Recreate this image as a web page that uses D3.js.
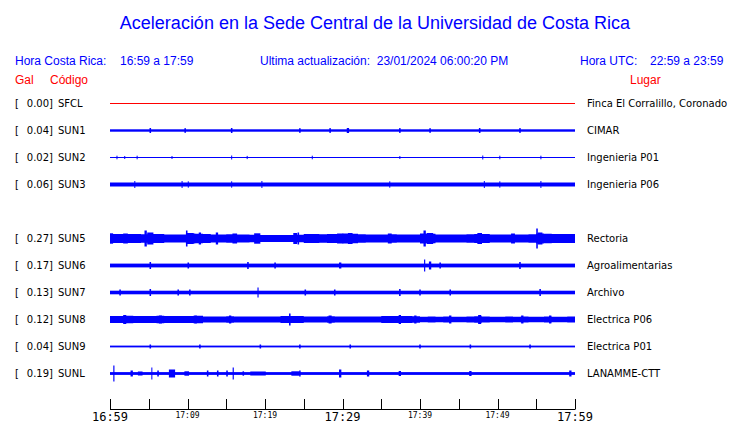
<!DOCTYPE html>
<html><head><meta charset="utf-8">
<script src="https://cdn.jsdelivr.net/npm/d3@7"></script>
<style>body{margin:0;background:#fff} text{white-space:pre}</style>
</head><body>
<script>
// ---- data ----
const slotCodes = ["SFCL","SUN1","SUN2","SUN3","SUN4","SUN5","SUN6","SUN7","SUN8","SUN9","SUNL"];
const codes  = ["SFCL","SUN1","SUN2","SUN3","SUN5","SUN6","SUN7","SUN8","SUN9","SUNL"];
const gal    = [0.00, 0.04, 0.02, 0.06, 0.27, 0.17, 0.13, 0.12, 0.04, 0.19];
const places = ["Finca El Corralillo, Coronado","CIMAR","Ingenieria P01","Ingenieria P06","Rectoria",
                "Agroalimentarias","Archivo","Electrica P06","Electrica P01","LANAMME-CTT"];
// background amplitude of each trace (relative units)
const baseAmp = [0, 1.2, 0.5, 2.0, 4.2, 1.9, 1.8, 3.0, 0.9, 1.4];
// per-minute envelope (minutes 0..60) for the busier traces
const envSUN5 = [4.5,4.6,4.4,4.5,4.3,4.6,4.5,4.0,4.1,4.0,5.0,4.8,4.5,4.0,4.1,4.2,4.0,4.1,3.8,3.6,3.5,3.4,3.6,3.5,3.7,
                 4.4,4.5,4.3,4.6,4.5,5.0,4.8,4.2,4.0,4.1,4.0,4.2,4.0,4.1,4.0,5.0,4.8,4.0,4.1,3.9,4.0,4.2,4.6,4.5,4.0,
                 4.1,3.9,4.0,4.1,4.3,5.0,4.8,4.6,4.5,4.6,4.5];
const envSUN8 = [3.6,3.5,3.8,3.4,3.6,3.5,3.7,3.4,3.5,3.6,3.4,3.7,3.0,3.1,2.9,3.2,3.0,2.9,3.0,3.1,2.9,3.0,3.5,3.6,3.4,
                 3.0,2.9,3.1,3.2,3.0,2.9,3.0,3.0,2.9,3.1,3.4,3.5,3.6,3.4,3.3,2.8,2.9,2.8,3.0,2.8,2.7,2.9,3.2,3.0,2.8,
                 2.8,2.9,2.8,3.1,2.8,2.7,2.9,2.8,2.8,2.9,2.8];
const envelopes = [null,null,null,null,envSUN5,null,null,envSUN8,null,null];
// bursts: [minute, half amplitude, duration in minutes]
const bursts = [
  [],
  [[5.2,2.5,0.2],[9.7,2.3,0.2],[15.7,2.5,0.2],[24.5,2.3,0.2],[28.4,2.4,0.2],[30.7,2.5,0.3],[37.4,2.4,0.2],[41.3,2.3,0.2],[47.7,2.5,0.2],[52.9,2.4,0.2]],
  [[0.9,1.8,0.1],[1.9,1.5,0.1],[3.5,1.8,0.1],[8.0,1.5,0.1],[15.7,2.0,0.1],[17.7,1.6,0.1],[26.1,1.8,0.1],[37.4,1.5,0.1],[48.1,2.0,0.1],[50.3,1.8,0.1],[55.6,1.8,0.1]],
  [[3.2,3.5,0.1],[9.3,3.5,0.1],[10.1,3.2,0.1],[15.7,3.2,0.1],[19.6,3.5,0.1],[36.1,3.2,0.1],[48.3,3.5,0.1],[50.3,3.2,0.1],[55.6,3.5,0.1]],
  [[0.2,5.2,0.4],[2.0,5.0,0.6],[4.6,8.0,0.3],[5.2,6.0,0.8],[9.9,8.0,0.2],[10.3,5.5,1.0],[11.6,6.0,0.3],[13.8,6.0,0.3],[16.1,5.0,0.6],[19.0,5.2,0.8],
   [23.9,5.5,0.5],[24.3,6.0,0.2],[29.7,5.0,0.8],[31.0,5.5,0.6],[36.1,5.0,0.5],[40.6,8.0,0.3],[41.3,5.5,0.8],[47.7,5.5,0.6],[52.0,5.0,0.5],[55.1,10.0,0.2],[55.5,6.0,0.6]],
  [[5.2,3.5,0.2],[10.1,3.0,0.2],[17.8,3.5,0.2],[21.3,3.0,0.2],[29.7,3.0,0.3],[40.6,6.0,0.15],[41.3,4.0,0.3],[42.6,3.0,0.2],[52.9,3.5,0.2]],
  [[1.3,3.0,0.2],[5.2,3.5,0.2],[8.8,3.0,0.2],[10.3,3.0,0.2],[19.1,5.0,0.15],[25.2,3.0,0.2],[29.0,3.0,0.2],[37.4,3.5,0.2],[40.0,3.0,0.2],[43.9,3.0,0.2],[55.5,3.5,0.2]],
  [[1.9,4.5,0.4],[6.5,4.0,0.4],[11.0,4.0,0.4],[15.5,4.0,0.3],[23.2,6.0,0.2],[28.4,4.0,0.4],[37.4,4.5,0.3],[39.4,4.0,0.3],[43.9,4.0,0.3],[47.7,4.5,0.4],[53.2,4.0,0.3],[56.8,4.0,0.3]],
  [[5.2,2.0,0.2],[11.6,2.0,0.2],[19.4,2.0,0.2],[24.5,2.0,0.2],[31.0,2.0,0.2],[40.0,2.0,0.2],[46.5,2.0,0.2],[54.2,2.0,0.2]],
  [[0.5,8.0,0.15],[2.8,3.0,0.3],[3.9,2.0,0.6],[5.4,6.0,0.1],[6.2,3.0,0.2],[8.0,4.0,0.8],[9.9,2.2,0.6],[12.6,3.0,0.2],[13.9,3.0,0.2],[15.1,3.0,0.2],
   [15.9,6.0,0.15],[17.2,2.2,0.2],[19.1,2.0,2.0],[23.9,2.2,1.0],[24.5,3.0,0.2],[29.7,4.0,0.3],[33.3,3.0,0.3],[37.4,2.5,0.3],[46.5,2.5,0.3],[59.4,3.0,0.3]]
];
const tickMinutes = d3.range(0, 61, 5);
const tickLabels = {0:"16:59",10:"17:09",20:"17:19",30:"17:29",40:"17:39",50:"17:49",60:"17:59"};
const majorTicks = [0,30,60];

// ---- drawing ----
const W = 740, H = 423;
const svg = d3.select("body").append("svg").attr("width", W).attr("height", H);
const BLUE = "#0000ff", RED = "#ff0000";

const x = d3.scaleLinear().domain([0,60]).range([110,575]);
const y = d3.scalePoint().domain(slotCodes).range([103,373]);
const amp = d3.scaleLinear().domain([0,1]).range([0,1]);

svg.append("text").attr("x",375).attr("y",29).attr("text-anchor","middle")
  .attr("font-family","Liberation Sans, Arial, sans-serif").attr("font-size",18).attr("fill",BLUE)
  .text("Aceleración en la Sede Central de la Universidad de Costa Rica");

const hdr = (tx, xx, yy, col, anchor) => svg.append("text").attr("x",xx).attr("y",yy)
  .attr("font-family","Liberation Sans, Arial, sans-serif").attr("font-size",12).attr("fill",col)
  .attr("text-anchor",anchor||"start").text(tx);
hdr("Hora Costa Rica:",15,65,BLUE);
hdr("16:59 a 17:59",120,65,BLUE);
hdr("Ultima actualización:  23/01/2024 06:00:20 PM",260,65,BLUE);
hdr("Hora UTC:",580,65,BLUE);
hdr("22:59 a 23:59",650,65,BLUE);
hdr("Gal",15,84,RED);
hdr("Código",50,84,RED);
hdr("Lugar",630,84,RED);

const lab = svg.append("g").attr("font-family","DejaVu Sans, sans-serif").attr("font-size",10).attr("fill","#000");
codes.forEach((c,i) => {
  const yy = y(c) + 3.5;
  lab.append("text").attr("x",15).attr("y",yy).text("[");
  lab.append("text").attr("x",53).attr("y",yy).attr("text-anchor","end").text(gal[i].toFixed(2) + "]");
  lab.append("text").attr("x",58).attr("y",yy).text(c);
  lab.append("text").attr("x",587).attr("y",yy).text(places[i]);
});

codes.forEach((c,i) => {
  const g = svg.append("g");
  const cy = y(c) + 0.5;
  const col = i === 0 ? RED : BLUE;
  if (baseAmp[i] === 0) {
    g.append("line").attr("x1",x(0)).attr("x2",x(60)).attr("y1",cy).attr("y2",cy)
      .attr("stroke",col).attr("stroke-width",1);
  } else if (envelopes[i]) {
    const env = envelopes[i];
    const area = d3.area().curve(d3.curveStepAfter)
      .x((d,k) => x(k)).y0(d => cy + amp(d)).y1(d => cy - amp(d));
    g.append("path").datum(env).attr("d", area).attr("fill", col);
  } else {
    const a = Math.max(0.5, amp(baseAmp[i]));
    g.append("rect").attr("x",x(0)).attr("width",x(60)-x(0)).attr("y",cy-a).attr("height",2*a).attr("fill",col);
  }
  g.selectAll("rect.b").data(bursts[i]).join("rect").attr("class","b")
    .attr("x",d => x(d[0]) - Math.max(1, x(d[2])-x(0))/2)
    .attr("width",d => Math.max(1, x(d[2])-x(0)))
    .attr("y",d => cy - amp(d[1]))
    .attr("height",d => 2*amp(d[1]))
    .attr("fill",col);
});

// axis
const ax = svg.append("g");
ax.append("line").attr("x1",x(0)).attr("x2",x(60)).attr("y1",409.5).attr("y2",409.5).attr("stroke","#000");
ax.selectAll("line.t").data(tickMinutes).join("line").attr("class","t")
  .attr("x1",d=>Math.round(x(d))+0.5).attr("x2",d=>Math.round(x(d))+0.5).attr("y1",399).attr("y2",409.5).attr("stroke","#000");
ax.selectAll("text").data(Object.keys(tickLabels).map(Number)).join("text")
  .attr("x",d=>x(d)).attr("y",d=>majorTicks.includes(d)?421:418).attr("text-anchor","middle")
  .attr("font-family","DejaVu Sans Mono, monospace").attr("font-size",d=>majorTicks.includes(d)?12:8)
  .attr("fill","#000").text(d=>tickLabels[d]);
</script>
</body></html>
